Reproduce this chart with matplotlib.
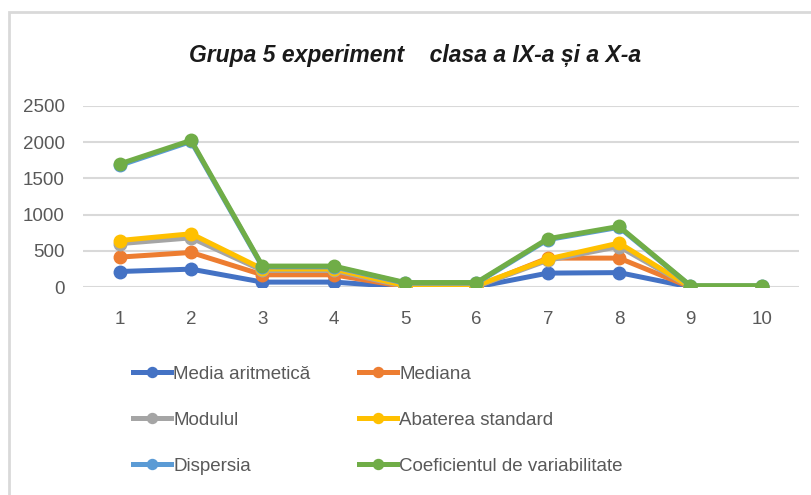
import numpy as np
import matplotlib
matplotlib.use('Agg')
import matplotlib.pyplot as plt
from matplotlib.patches import Rectangle

plt.rcParams['font.family'] = ['Liberation Sans', 'DejaVu Sans']

# data
x = [1, 2, 3, 4, 5, 6, 7, 8, 9, 10]
media = [215, 248, 69, 69, 2, 2, 193, 200, 0, 0]
mediana = [414, 478, 170, 170, 5, 5, 400, 400, 0, 0]
modulul = [600, 680, 230, 230, 10, 10, 370, 560, 0, 0]
abaterea = [643, 736, 250, 250, 20, 20, 387, 608, 2, 2]
dispersia = [1680, 2010, 280, 280, 55, 55, 655, 825, 15, 15]
coef = [1700, 2025, 290, 290, 63, 63, 667, 837, 20, 20]

names = ['Media aritmetică', 'Mediana', 'Modulul', 'Abaterea standard',
         'Dispersia', 'Coeficientul de variabilitate']
series = [media, mediana, modulul, abaterea, dispersia, coef]
colors = ['#4472C4', '#ED7D31', '#A5A5A5', '#FFC000', '#5B9BD5', '#70AD47']

fig = plt.figure(figsize=(8.11, 4.95), dpi=100)
ax = fig.add_axes([0.102, 0.420, 0.883, 0.366])

lines = []
for s, c, n in zip(series, colors, names):
    ln, = ax.plot(x, s, color=c, lw=3.6, marker='o', markersize=9, label=n)
    lines.append(ln)

ax.set_xlim(0.48, 10.52)
ax.set_ylim(0, 2500)
ax.set_xticks(x)
ax.set_yticks([0, 500, 1000, 1500, 2000, 2500])
ax.tick_params(length=0, labelsize=13.5, labelcolor='#595959')
ax.tick_params(axis='x', pad=17)
ax.tick_params(axis='y', pad=13)
for sp in ax.spines.values():
    sp.set_visible(False)
ax.grid(axis='y', color='#d9d9d9', lw=1.5)
ax.set_axisbelow(True)

fig.text(0.512, 0.888, 'Grupa 5 experiment    clasa a IX-a și a X-a',
         ha='center', va='center', fontsize=16.5, style='italic',
         fontweight='bold', color='#1a1a1a')

# outer chart border (only left and top are visible)
fig.patches.append(Rectangle((9 / 811, -0.2), 1.2, 1.2 - 12 / 495 + 0.0,
                             transform=fig.transFigure, fill=False,
                             edgecolor='#d9d9d9', lw=2))

# legend: two columns placed separately
col1 = [lines[0], lines[2], lines[4]]
col2 = [lines[1], lines[3], lines[5]]
for hs, xpos in [(col1, 132 / 811), (col2, 358 / 811)]:
    fig.legend(hs, [h.get_label() for h in hs], loc='upper left',
               bbox_to_anchor=(xpos - 0.008, 1 - 358 / 495), frameon=False,
               fontsize=13.5, labelcolor='#595959', handlelength=2.0,
               handletextpad=0.15, labelspacing=1.55, borderaxespad=0,
               markerscale=0.8)

fig.savefig('out.png', dpi=100)
